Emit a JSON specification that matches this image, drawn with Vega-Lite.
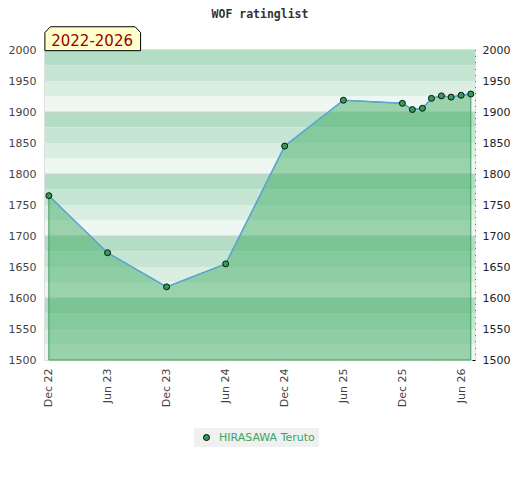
{
  "$schema": "https://vega.github.io/schema/vega-lite/v6.json",
  "width": 430,
  "height": 310,
  "autosize": {"type": "none"},
  "padding": {"left": 45, "top": 50, "right": 45, "bottom": 120},
  "background": "#ffffff",
  "title": {
    "text": "WOF ratinglist",
    "font": "DejaVu Sans Mono",
    "fontSize": 11.5,
    "fontWeight": "bold",
    "color": "#333333",
    "anchor": "middle",
    "frame": "group",
    "baseline": "alphabetic",
    "offset": -5
  },
  "config": {
    "font": "DejaVu Sans",
    "view": {"stroke": "#d6d6d6", "strokeWidth": 1.5, "fill": "#ffffff"},
    "legend": {
      "fillColor": "#f0f0f0",
      "padding": 4,
      "symbolType": "circle",
      "symbolSize": 36,
      "symbolStrokeColor": "#000000",
      "symbolStrokeWidth": 1,
      "symbolOffset": 3,
      "labelOffset": 7,
      "labelColor": "#3aa65a",
      "labelFontSize": 11,
      "labelFont": "DejaVu Sans"
    }
  },
  "data": {
    "values": [
      {"date": "2022-12-01", "rating": 1765, "name": "HIRASAWA Teruto"},
      {"date": "2023-06-01", "rating": 1673, "name": "HIRASAWA Teruto"},
      {"date": "2023-12-01", "rating": 1618, "name": "HIRASAWA Teruto"},
      {"date": "2024-06-01", "rating": 1655, "name": "HIRASAWA Teruto"},
      {"date": "2024-12-01", "rating": 1845, "name": "HIRASAWA Teruto"},
      {"date": "2025-06-01", "rating": 1919, "name": "HIRASAWA Teruto"},
      {"date": "2025-12-01", "rating": 1914, "name": "HIRASAWA Teruto"},
      {"date": "2026-01-01", "rating": 1904, "name": "HIRASAWA Teruto"},
      {"date": "2026-02-01", "rating": 1906, "name": "HIRASAWA Teruto"},
      {"date": "2026-03-01", "rating": 1922, "name": "HIRASAWA Teruto"},
      {"date": "2026-04-01", "rating": 1926, "name": "HIRASAWA Teruto"},
      {"date": "2026-05-01", "rating": 1924, "name": "HIRASAWA Teruto"},
      {"date": "2026-06-01", "rating": 1927, "name": "HIRASAWA Teruto"},
      {"date": "2026-07-01", "rating": 1929, "name": "HIRASAWA Teruto"}
    ]
  },
  "layer": [
    {
      "data": {
        "values": [
          {"lo": 1975, "hi": 2000, "tier": "a"},
          {"lo": 1950, "hi": 1975, "tier": "b"},
          {"lo": 1925, "hi": 1950, "tier": "c"},
          {"lo": 1900, "hi": 1925, "tier": "d"},
          {"lo": 1875, "hi": 1900, "tier": "a"},
          {"lo": 1850, "hi": 1875, "tier": "b"},
          {"lo": 1825, "hi": 1850, "tier": "c"},
          {"lo": 1800, "hi": 1825, "tier": "d"},
          {"lo": 1775, "hi": 1800, "tier": "a"},
          {"lo": 1750, "hi": 1775, "tier": "b"},
          {"lo": 1725, "hi": 1750, "tier": "c"},
          {"lo": 1700, "hi": 1725, "tier": "d"},
          {"lo": 1675, "hi": 1700, "tier": "a"},
          {"lo": 1650, "hi": 1675, "tier": "b"},
          {"lo": 1625, "hi": 1650, "tier": "c"},
          {"lo": 1600, "hi": 1625, "tier": "d"},
          {"lo": 1575, "hi": 1600, "tier": "a"},
          {"lo": 1550, "hi": 1575, "tier": "b"},
          {"lo": 1525, "hi": 1550, "tier": "c"},
          {"lo": 1500, "hi": 1525, "tier": "d"}
        ]
      },
      "mark": {"type": "rect"},
      "encoding": {
        "y": {
          "field": "lo",
          "type": "quantitative",
          "scale": {"domain": [1500, 2000], "nice": false, "zero": false},
          "axis": {
            "orient": "left",
            "title": null,
            "format": "d",
            "values": [1500, 1550, 1600, 1650, 1700, 1750, 1800, 1850, 1900, 1950, 2000],
            "ticks": false,
            "domain": false,
            "grid": false,
            "labelPadding": 9,
            "labelColor": "#444444",
            "labelFontSize": 11
          }
        },
        "y2": {"field": "hi"},
        "color": {
          "field": "tier",
          "type": "nominal",
          "scale": {"domain": ["a", "b", "c", "d"], "range": ["#b3ddc4", "#c6e6d3", "#dbeee2", "#eef7f1"]},
          "legend": null
        }
      }
    },
    {
      "data": {"values": [{"r": 1600}, {"r": 1700}, {"r": 1800}, {"r": 1900}]},
      "mark": {"type": "rule", "color": "#d2d2d2", "strokeWidth": 1},
      "encoding": {
        "y": {
          "field": "r",
          "type": "quantitative",
          "axis": {
            "orient": "right",
            "title": null,
            "format": "d",
            "values": [1500, 1510, 1520, 1530, 1540, 1550, 1560, 1570, 1580, 1590, 1600, 1610, 1620, 1630, 1640, 1650, 1660, 1670, 1680, 1690, 1700, 1710, 1720, 1730, 1740, 1750, 1760, 1770, 1780, 1790, 1800, 1810, 1820, 1830, 1840, 1850, 1860, 1870, 1880, 1890, 1900, 1910, 1920, 1930, 1940, 1950, 1960, 1970, 1980, 1990, 2000],
            "labelExpr": "datum.value % 50 === 0 ? datum.label : ''",
            "labelOverlap": false,
            "labelBound": false,
            "offset": -3,
            "ticks": true,
            "tickSize": 3,
            "tickColor": "#000000",
            "domain": false,
            "grid": false,
            "labelPadding": 7,
            "labelColor": "#222222",
            "labelFontSize": 11
          }
        }
      }
    },
    {
      "mark": {
        "type": "area",
        "color": "#43ad66",
        "fillOpacity": 0.5,
        "stroke": "#3a9e5b",
        "strokeOpacity": 1,
        "strokeWidth": 1
      },
      "encoding": {
        "x": {
          "field": "date",
          "type": "temporal",
          "scale": {
            "type": "utc",
            "domain": [
              {"year": 2022, "month": 11, "date": 19, "utc": true},
              {"year": 2026, "month": 7, "date": 14, "utc": true}
            ]
          },
          "axis": {
            "title": null,
            "values": [
              {"year": 2022, "month": 12, "date": 1, "utc": true},
              {"year": 2023, "month": 6, "date": 1, "utc": true},
              {"year": 2023, "month": 12, "date": 1, "utc": true},
              {"year": 2024, "month": 6, "date": 1, "utc": true},
              {"year": 2024, "month": 12, "date": 1, "utc": true},
              {"year": 2025, "month": 6, "date": 1, "utc": true},
              {"year": 2025, "month": 12, "date": 1, "utc": true},
              {"year": 2026, "month": 6, "date": 1, "utc": true}
            ],
            "labelExpr": "utcFormat(datum.value, '%b %y')",
            "labelAngle": 270,
            "ticks": false,
            "domain": false,
            "grid": false,
            "labelPadding": 8,
            "labelColor": "#444444",
            "labelFontSize": 11
          }
        },
        "y": {"field": "rating", "type": "quantitative", "axis": null},
        "y2": {"datum": 1500}
      }
    },
    {
      "mark": {"type": "line", "color": "#5aa5da", "strokeWidth": 1.5},
      "encoding": {
        "x": {"field": "date", "type": "temporal"},
        "y": {"field": "rating", "type": "quantitative", "axis": null}
      }
    },
    {
      "mark": {"type": "point", "shape": "circle", "filled": true, "size": 36, "stroke": "#111111", "strokeWidth": 1, "opacity": 1},
      "encoding": {
        "x": {"field": "date", "type": "temporal"},
        "y": {"field": "rating", "type": "quantitative", "axis": null},
        "fill": {
          "field": "name",
          "type": "nominal",
          "scale": {"range": ["#2f9e57"]},
          "legend": {
            "title": null,
            "orient": "none",
            "legendX": 149,
            "legendY": 378,
            "labelExpr": "datum.label + '\u00a0'"
          }
        }
      }
    },
    {
      "data": {"values": [{"label": "2022-2026"}]},
      "mark": {
        "type": "point",
        "shape": "M -1 0.25 L -1 -0.13 L -0.885 -0.25 L 0.885 -0.25 L 1 -0.13 L 1 0.25 Z",
        "size": 9158,
        "filled": true,
        "fill": "#ffffcc",
        "stroke": "#000000",
        "strokeWidth": 1,
        "opacity": 1
      },
      "encoding": {
        "x": {"datum": {"year": 2023, "month": 4, "date": 16, "utc": true}, "type": "temporal"},
        "y": {"datum": 2018.2, "type": "quantitative", "axis": null}
      }
    },
    {
      "data": {"values": [{"label": "2022-2026"}]},
      "mark": {
        "type": "text",
        "font": "DejaVu Sans",
        "fontSize": 15,
        "color": "#990000",
        "align": "center",
        "baseline": "alphabetic"
      },
      "encoding": {
        "x": {"datum": {"year": 2023, "month": 4, "date": 14, "utc": true}, "type": "temporal"},
        "y": {"datum": 2007, "type": "quantitative", "axis": null},
        "text": {"field": "label"}
      }
    }
  ],
  "resolve": {"axis": {"y": "independent"}}
}
